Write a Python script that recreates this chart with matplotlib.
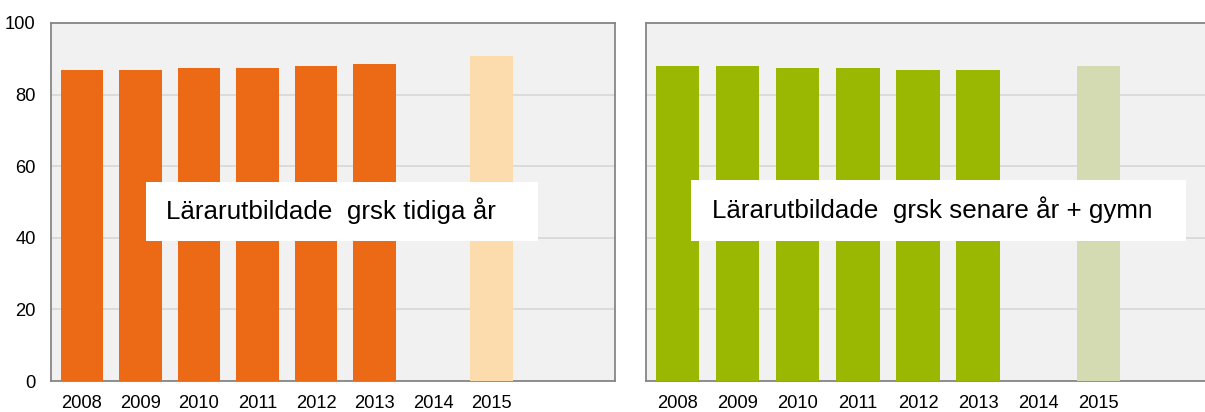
import numpy as np
import matplotlib
matplotlib.use("Agg")
import matplotlib.pyplot as plt
from matplotlib.patches import Rectangle

years = ["2008", "2009", "2010", "2011", "2012", "2013", "2014", "2015"]
tidiga = [86.9, 86.9, 87.4, 87.4, 88.0, 88.6, np.nan, 90.8]
senare = [88.0, 88.0, 87.4, 87.4, 86.9, 86.9, np.nan, 88.0]
label_tidiga = "Lärarutbildade  grsk tidiga år"
label_senare = "Lärarutbildade  grsk senare år + gymn"

plt.rcParams['font.family'] = ['Liberation Sans', 'DejaVu Sans']

fig = plt.figure(figsize=(12.05, 4.12), dpi=100)
ax1 = fig.add_axes([0.0423, 0.0752, 0.468, 0.869])
ax2 = fig.add_axes([0.536, 0.0752, 0.4805, 0.869])


def draw_panel(ax, values, main, light, label, box, text_x, base_y, show_y):
    x = np.arange(len(years))
    colors = [light if y == "2015" else main for y in years]
    ax.set_facecolor("#F1F1F1")
    ax.bar(x, values, width=0.72, color=colors, zorder=3)
    ax.set_xlim(-0.53, 9.11)
    ax.set_ylim(0, 100)
    ax.set_yticks([0, 20, 40, 60, 80, 100])
    ax.yaxis.grid(True, color="#D9D9D9", lw=1.3, zorder=1)
    ax.set_axisbelow(True)
    ax.set_xticks(x)
    ax.set_xticklabels(years)
    ax.tick_params(length=0, labelsize=13.2)
    ax.tick_params(axis="x", pad=10)
    ax.tick_params(axis="y", pad=11)
    if not show_y:
        ax.tick_params(axis="y", labelleft=False)
    for s in ax.spines.values():
        s.set_color("#868686")
        s.set_linewidth(1.3)
    x0, y0, x1, y1 = box
    ax.add_patch(Rectangle((x0, y0), x1 - x0, y1 - y0, transform=ax.transAxes,
                           facecolor="white", edgecolor="none", zorder=5))
    ax.text(text_x, base_y, label, transform=ax.transAxes, fontsize=18.7,
            va="baseline", ha="left", zorder=6)


draw_panel(ax1, tidiga, "#EC6A16", "#FCDBAC", label_tidiga,
           (0.168, 0.391, 0.863, 0.556), 0.204, 0.4525, True)
draw_panel(ax2, senare, "#9AB802", "#D4DBB3", label_senare,
           (0.0777, 0.391, 0.933, 0.561), 0.114, 0.456, False)

fig.savefig("out.png", dpi=100)
